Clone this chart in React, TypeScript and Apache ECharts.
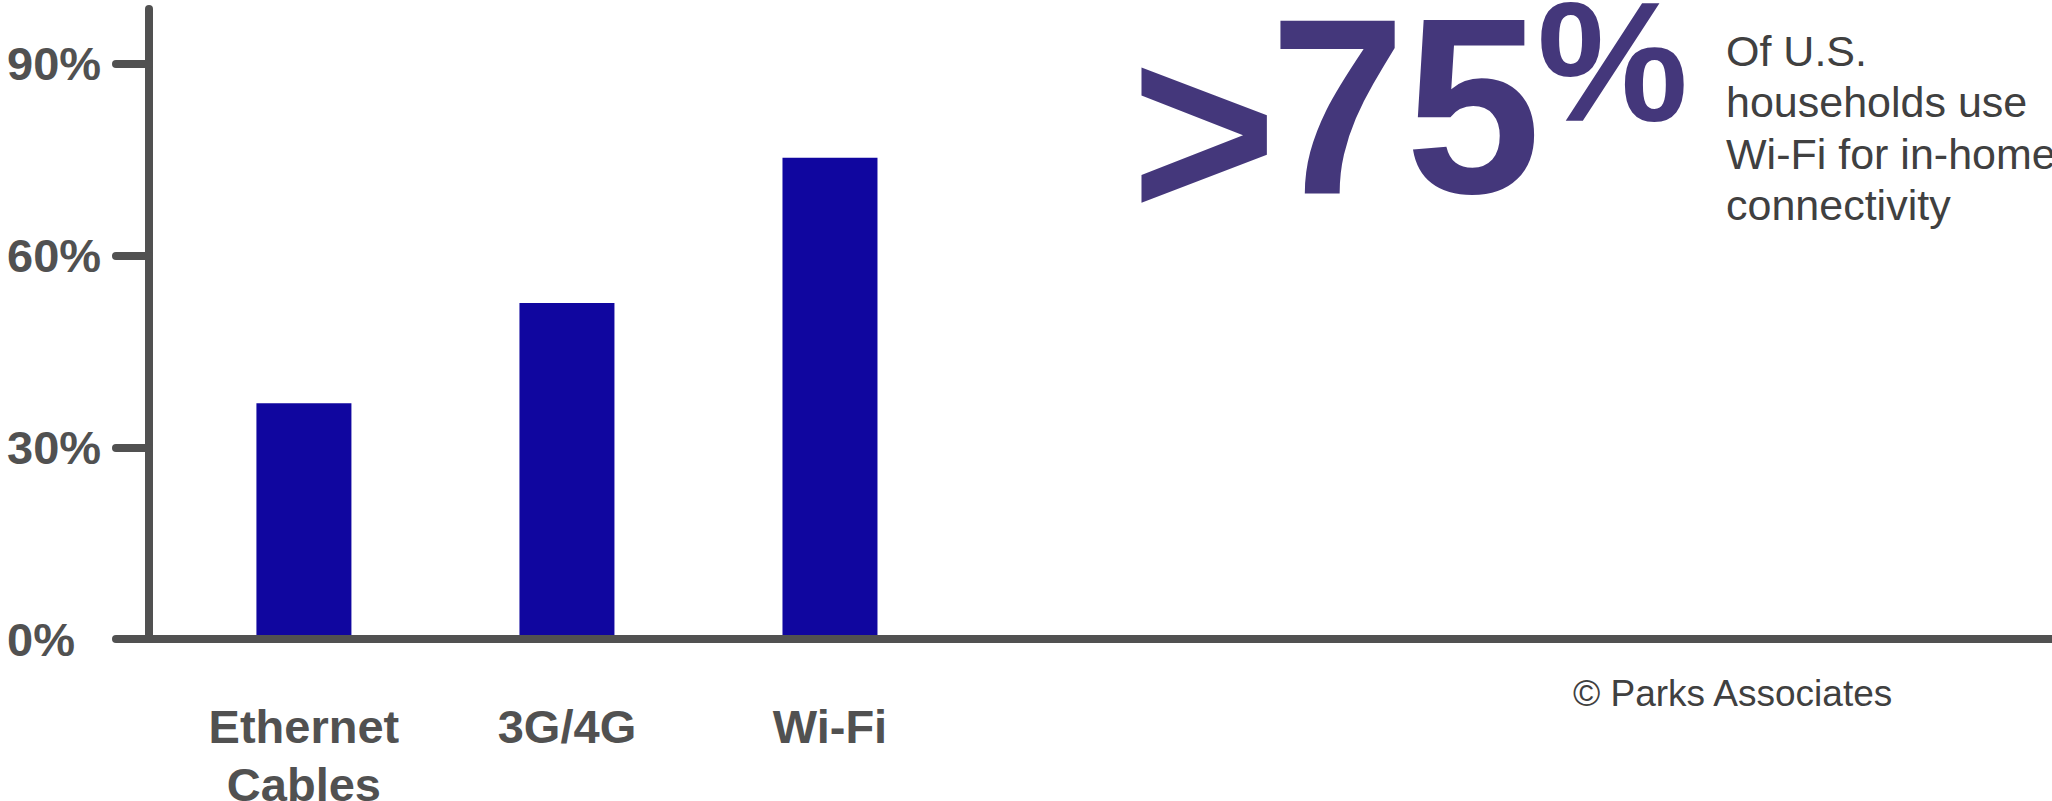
import React, { useEffect, useRef } from 'react';
import * as echarts from 'echarts';

const categories = ['Ethernet\nCables', '3G/4G', 'Wi-Fi'];
const shareValues = [36.9, 52.6, 75.3];
const yTickValues = [0, 30, 60, 90];
const headlineSign = '>';
const headlineNumber = '75';
const headlineSuffix = '%';
const sideNote = ['Of U.S.', 'households use', 'Wi-Fi for in-home', 'connectivity'];
const sourceNote = '© Parks Associates';

export default function App() {
  const ref = useRef<HTMLDivElement>(null);
  useEffect(() => {
    if (!ref.current) return;
    const chart = echarts.init(ref.current, null, { renderer: 'svg' });
    const fontFamily = '"Liberation Sans", Arial, Helvetica, sans-serif';
    const axisColor = '#515151';
    const purple = '#44377B';
    chart.setOption({
      animation: false,
      grid: { left: 149, right: 0, top: 9, bottom: 162, containLabel: false, outerBoundsMode: 'none' },
      xAxis: {
        type: 'value',
        min: -0.589,
        max: 6.646,
        z: 5,
        splitLine: { show: false },
        axisLine: { show: true, onZero: false, lineStyle: { color: axisColor, width: 8, cap: 'round' } },
        axisTick: { show: false },
        axisLabel: {
          customValues: [0, 1, 2],
          formatter: (v: number) => categories[Math.round(v)] ?? '',
          margin: 58,
          color: axisColor,
          fontWeight: 'bold',
          fontSize: 47,
          lineHeight: 58,
          fontFamily,
          align: 'center',
        },
      },
      yAxis: {
        type: 'value',
        min: 0,
        max: 98.6,
        z: 5,
        splitLine: { show: false },
        axisLine: { show: true, onZero: false, lineStyle: { color: axisColor, width: 8, cap: 'round' } },
        axisTick: {
          show: true,
          customValues: yTickValues,
          length: 33,
          lineStyle: { color: axisColor, width: 8, cap: 'round' },
        },
        axisLabel: {
          customValues: yTickValues,
          formatter: '{value}%',
          align: 'left',
          margin: 142,
          color: axisColor,
          fontWeight: 'bold',
          fontSize: 47,
          fontFamily,
        },
      },
      series: [
        {
          type: 'bar',
          data: shareValues.map((v, i) => [i, v]),
          barWidth: 95,
          itemStyle: { color: '#10069F' },
        },
      ],
      graphic: [
        {
          type: 'text',
          x: 1131,
          y: 131,
          style: { text: headlineSign, font: `bold 250px ${fontFamily}`, fill: purple, align: 'left', verticalAlign: 'middle' },
        },
        {
          type: 'text',
          x: 1270,
          y: 106,
          scaleX: 0.97,
          style: { text: headlineNumber, font: `bold 251px ${fontFamily}`, fill: purple, align: 'left', verticalAlign: 'middle' },
        },
        {
          type: 'text',
          x: 1537,
          y: 62,
          style: { text: headlineSuffix, font: `bold 170px ${fontFamily}`, fill: purple, align: 'left', verticalAlign: 'middle' },
        },
        {
          type: 'text',
          x: 1726,
          y: 25,
          style: {
            text: sideNote.join('\n'),
            font: `43px ${fontFamily}`,
            lineHeight: 51.5,
            fill: '#404040',
            align: 'left',
            verticalAlign: 'top',
          },
        },
        {
          type: 'text',
          x: 1573,
          y: 693,
          style: { text: sourceNote, font: `37px ${fontFamily}`, fill: '#404040', align: 'left', verticalAlign: 'middle' },
        },
      ],
    });
    return () => chart.dispose();
  }, []);
  return <div ref={ref} style={{ position: 'fixed', left: 0, top: 0, width: 2052, height: 801, background: '#fff' }} />;
}
